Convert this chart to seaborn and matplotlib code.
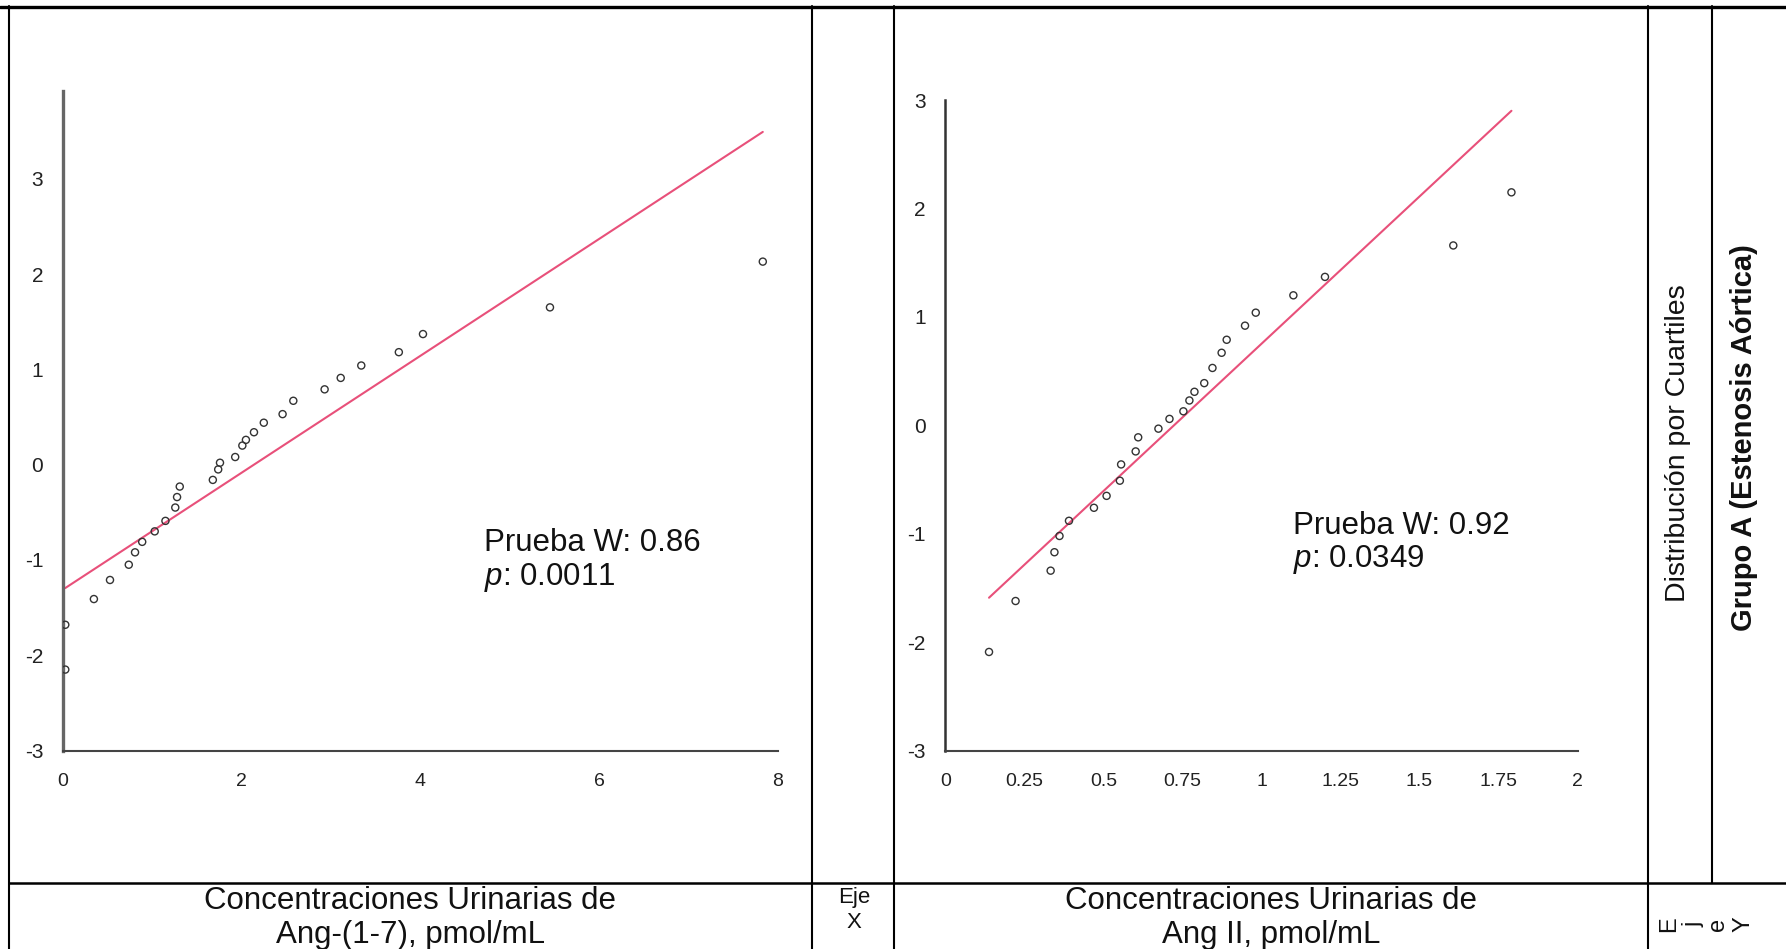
import matplotlib
matplotlib.use("Agg")
import matplotlib.pyplot as plt
from matplotlib.lines import Line2D
import seaborn as sns
import numpy as np
import pandas as pd

# ---------------- data ----------------
ang17_conc = [0.03, 0.03, 0.35, 0.53, 0.74, 0.81, 0.89, 1.03, 1.15, 1.26, 1.28, 1.31,
              1.68, 1.74, 1.76, 1.93, 2.01, 2.05, 2.14, 2.25, 2.46, 2.58, 2.93, 3.11,
              3.34, 3.76, 4.03, 5.45, 7.83]
ang17_quant = [-2.15, -1.68, -1.41, -1.21, -1.05, -0.92, -0.81, -0.70, -0.59, -0.45,
               -0.34, -0.23, -0.16, -0.05, 0.02, 0.08, 0.20, 0.26, 0.34, 0.44, 0.53,
               0.67, 0.79, 0.91, 1.04, 1.18, 1.37, 1.65, 2.13]
ang17_mean, ang17_sd = 2.14, 1.63

ang2_conc = [0.138, 0.222, 0.333, 0.345, 0.361, 0.391, 0.470, 0.510, 0.552, 0.556,
             0.602, 0.610, 0.674, 0.709, 0.753, 0.772, 0.788, 0.819, 0.845, 0.874,
             0.890, 0.948, 0.982, 1.101, 1.201, 1.607, 1.791]
ang2_quant = [-2.09, -1.62, -1.34, -1.17, -1.02, -0.88, -0.76, -0.65, -0.51, -0.36,
              -0.24, -0.11, -0.03, 0.06, 0.13, 0.23, 0.31, 0.39, 0.53, 0.67, 0.79,
              0.92, 1.04, 1.20, 1.37, 1.66, 2.15]
ang2_mean, ang2_sd = 0.723, 0.368

left_xticks = [0, 2, 4, 6, 8]
left_xticklabels = ["0", "2", "4", "6", "8"]
right_xticks = [0, 0.25, 0.5, 0.75, 1, 1.25, 1.5, 1.75, 2]
right_xticklabels = ["0", "0.25", "0.5", "0.75", "1", "1.25", "1.5", "1.75", "2"]
yticks = [-3, -2, -1, 0, 1, 2, 3]
yticklabels = ["-3", "-2", "-1", "0", "1", "2", "3"]

stats_left = ["Prueba W: 0.86", "0.0011"]
stats_right = ["Prueba W: 0.92", "0.0349"]
xlabel_left = ["Concentraciones Urinarias de", "Ang-(1-7), pmol/mL"]
xlabel_right = ["Concentraciones Urinarias de", "Ang II, pmol/mL"]
side_label = "Distribución por Cuartiles"
group_label = "Grupo A (Estenosis Aórtica)"

# ---------------- style ----------------
sns.set_theme(style="white")
plt.rcParams['font.family'] = ['Liberation Sans', 'DejaVu Sans']
plt.rcParams['axes.unicode_minus'] = False
plt.rcParams['mathtext.fontset'] = 'custom'
plt.rcParams['mathtext.rm'] = 'Liberation Sans'
plt.rcParams['mathtext.it'] = 'Liberation Sans:italic'

W, H = 1786, 949
fig = plt.figure(figsize=(W / 100, H / 100), dpi=100)
fig.patch.set_facecolor("white")

def fx(px):
    return px / W

def fy(py):
    return 1 - py / H

LINE_COLOR = "#E8507A"
PT_COLOR = "#333333"


def qq_panel(rect, conc, quant, mean, sd, xlim, ylim, xticks, xticklabels,
             yaxis_lw, yaxis_color):
    ax = fig.add_axes(rect)
    df = pd.DataFrame({"conc": conc, "quant": quant})
    xs = np.array([min(conc), max(conc)])
    ref = pd.DataFrame({"conc": xs, "quant": (xs - mean) / sd})
    sns.lineplot(data=ref, x="conc", y="quant", ax=ax, color=LINE_COLOR,
                 linewidth=1.5, zorder=2)
    sns.scatterplot(data=df, x="conc", y="quant", ax=ax, marker="o",
                    facecolors="none", edgecolor=PT_COLOR, s=26,
                    linewidth=1.0, zorder=3)
    ax.set_xlim(*xlim)
    ax.set_ylim(*ylim)
    ax.set_xlabel("")
    ax.set_ylabel("")
    ax.set_xticks(xticks)
    ax.set_xticklabels(xticklabels)
    ax.set_yticks(yticks)
    ax.set_yticklabels(yticklabels)
    for s in ("top", "right"):
        ax.spines[s].set_visible(False)
    ax.spines["left"].set_linewidth(yaxis_lw)
    ax.spines["left"].set_color(yaxis_color)
    ax.spines["bottom"].set_linewidth(1.5)
    ax.spines["bottom"].set_color("#444444")
    ax.tick_params(axis="y", direction="out", length=6, width=1.2,
                   color="#444444", pad=8, labelsize=15, labelcolor="#222222")
    ax.tick_params(axis="x", direction="out", length=4, width=1.2,
                   color="#444444", pad=12, labelsize=14, labelcolor="#222222")
    ax.patch.set_alpha(0)
    return ax


ax1 = qq_panel([fx(62.6), fy(750.6), fx(778) - fx(62.6), fy(91) - fy(750.6)],
               ang17_conc, ang17_quant, ang17_mean, ang17_sd,
               (0, 8), (-3, 3.92), left_xticks, left_xticklabels, 2.4, "#666666")
ax2 = qq_panel([fx(945.4), fy(750.6), fx(1577.5) - fx(945.4), fy(100.2) - fy(750.6)],
               ang2_conc, ang2_quant, ang2_mean, ang2_sd,
               (0, 2), (-3, 3), right_xticks, right_xticklabels, 1.8, "#333333")

# ---------------- statistics text ----------------
STAT_FS = 22.5
fig.text(fx(484), fy(543), stats_left[0], fontsize=STAT_FS, ha="left", va="center",
         color="#111111")
fig.text(fx(484), fy(577), r"$p$: " + stats_left[1], fontsize=STAT_FS, ha="left",
         va="center", color="#111111")
fig.text(fx(1293), fy(526), stats_right[0], fontsize=STAT_FS, ha="left", va="center",
         color="#111111")
fig.text(fx(1293), fy(559), r"$p$: " + stats_right[1], fontsize=STAT_FS, ha="left",
         va="center", color="#111111")

# ---------------- table frame ----------------
def hline(y, x0, x1, lw=1.5):
    fig.add_artist(Line2D([fx(x0), fx(x1)], [fy(y), fy(y)], color="black",
                          linewidth=lw, transform=fig.transFigure))

def vline(x, y0, y1, lw=1.5):
    fig.add_artist(Line2D([fx(x), fx(x)], [fy(y0), fy(y1)], color="black",
                          linewidth=lw, transform=fig.transFigure))

hline(6.5, 0, W, lw=2.4)
hline(883, 9, W, lw=1.8)
vline(9, 6, H)
vline(812, 6, H)
vline(894, 6, H)
vline(1648, 6, H)
vline(1712, 6, 883)

# ---------------- cell labels ----------------
LAB_FS = 22.5
fig.text(fx(410), fy(901), xlabel_left[0], fontsize=LAB_FS, ha="center", va="center",
         color="#111111")
fig.text(fx(410), fy(935), xlabel_left[1], fontsize=LAB_FS, ha="center", va="center",
         color="#111111")
fig.text(fx(1271), fy(901), xlabel_right[0], fontsize=LAB_FS, ha="center", va="center",
         color="#111111")
fig.text(fx(1271), fy(935), xlabel_right[1], fontsize=LAB_FS, ha="center", va="center",
         color="#111111")
fig.text(fx(854), fy(898), "Eje", fontsize=16, ha="center", va="center",
         color="#111111")
fig.text(fx(854), fy(923), "X", fontsize=16, ha="center", va="center",
         color="#111111")
for ch, xp in zip(["E", "j", "e", "Y"], [1669, 1693, 1718, 1743]):
    fig.text(fx(xp), fy(924), ch, fontsize=17, ha="center", va="center",
             rotation=90, color="#111111")

fig.text(fx(1678), fy(443), side_label, fontsize=20.5, ha="center", va="center",
         rotation=90, color="#111111")
fig.text(fx(1744), fy(438), group_label, fontsize=21, ha="center", va="center",
         rotation=90, fontweight="bold", color="#111111")

fig.savefig("out.png", dpi=100, facecolor="white")
